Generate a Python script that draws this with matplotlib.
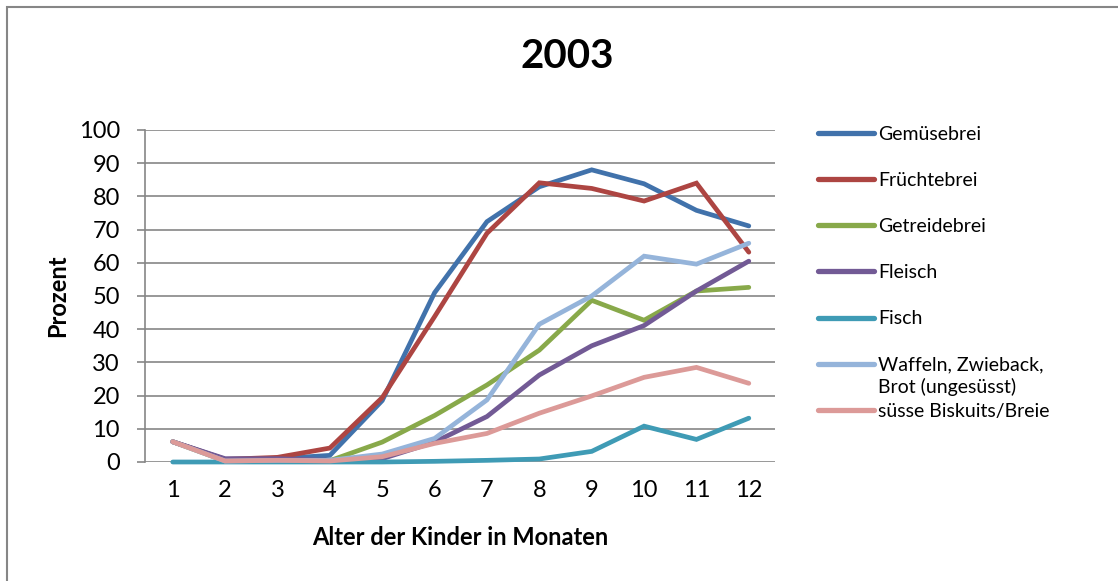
import matplotlib
matplotlib.use("Agg")
import matplotlib.pyplot as plt
from matplotlib.patches import Rectangle

plt.rcParams['font.family'] = ['Lato', 'DejaVu Sans']

# Alter der Kinder (Monate)
months = list(range(1, 13))

# Anteil der Kinder in Prozent je Lebensmittel
gemuesebrei = [6.1, 0.8, 1.0, 2.0, 18.5, 51.0, 72.4, 82.9, 88.0, 83.8, 75.8, 71.1]
fruechtebrei = [6.1, 0.8, 1.4, 4.2, 19.4, 43.8, 68.9, 84.1, 82.4, 78.6, 84.0, 63.2]
getreidebrei = [6.1, 0.3, 0.3, 0.4, 6.0, 14.0, 23.2, 33.7, 48.7, 42.7, 51.5, 52.6]
fleisch = [6.1, 1.0, 1.0, 0.5, 1.0, 6.0, 13.7, 26.2, 35.0, 41.1, 51.5, 60.5]
fisch = [0.0, 0.0, 0.0, 0.0, 0.0, 0.2, 0.5, 0.9, 3.2, 10.8, 6.8, 13.2]
waffeln = [6.1, 0.3, 0.5, 0.5, 2.4, 7.1, 18.7, 41.5, 50.0, 62.0, 59.6, 65.9]
biskuits = [6.1, 0.3, 0.5, 0.3, 1.6, 5.6, 8.6, 14.7, 19.9, 25.5, 28.5, 23.7]

series = [
    ("Gemüsebrei", gemuesebrei, "#4172ab"),
    ("Früchtebrei", fruechtebrei, "#ad4542"),
    ("Getreidebrei", getreidebrei, "#88a94a"),
    ("Fleisch", fleisch, "#725a95"),
    ("Fisch", fisch, "#3f9bb5"),
    ("Waffeln, Zwieback,", waffeln, "#95b4da"),
    ("süsse Biskuits/Breie", biskuits, "#dc9a98"),
]

fig = plt.figure(figsize=(11.18, 5.81), dpi=100)
ax = fig.add_axes([145 / 1118, 1 - 462 / 581, 630 / 1118, 332 / 581])

grid_col = "#868686"
for name, vals, col in series:
    ax.plot(months, vals, color=col, lw=3.4, label=name, clip_on=False,
            solid_joinstyle="miter", solid_capstyle="round", zorder=3)

ax.set_xlim(0.47, 12.5)
ax.set_ylim(0, 100)
ax.set_yticks(range(0, 101, 10))
ax.set_xticks(months)
ax.yaxis.grid(True, color=grid_col, lw=1.2)
ax.set_axisbelow(True)
for s in ("top", "right", "bottom"):
    ax.spines[s].set_visible(False)
ax.spines["left"].set_color(grid_col)
ax.spines["left"].set_linewidth(1.2)
ax.tick_params(axis="y", length=6, width=1.2, color=grid_col, labelsize=17, pad=12)
ax.tick_params(axis="x", length=0, labelsize=17, pad=13)

ax.set_xlabel("Alter der Kinder in Monaten", fontsize=17, fontweight="bold", labelpad=18)
ax.set_ylabel("Prozent", fontsize=17, fontweight="bold", labelpad=7)
fig.text(567 / 1118, 1 - 56 / 581, "2003", fontsize=29, fontweight="bold",
         ha="center", va="center")

leg = ax.legend(loc="upper left", bbox_to_anchor=(810 / 1118, 1 - 118 / 581),
                bbox_transform=fig.transFigure, frameon=False, fontsize=14,
                handlelength=2.9, handletextpad=0.2, labelspacing=1.5,
                borderaxespad=0)
for h in leg.get_lines():
    h.set_linewidth(3.8)

# second line of the Waffeln label sits under the first one
fig.canvas.draw()
t = leg.get_texts()[5]
bb = t.get_window_extent()
fig.text(bb.x0 / 1118, (bb.y0 - 22) / 581, "Brot (ungesüsst)", fontsize=14,
         ha="left", va="bottom")

# chart border
fig.patches.append(Rectangle((7 / 1118, -0.1), 1.2, 1 - 7 / 581 + 0.1,
                             transform=fig.transFigure, fill=False,
                             edgecolor=grid_col, lw=1.5))

fig.savefig("out.png", dpi=100)
